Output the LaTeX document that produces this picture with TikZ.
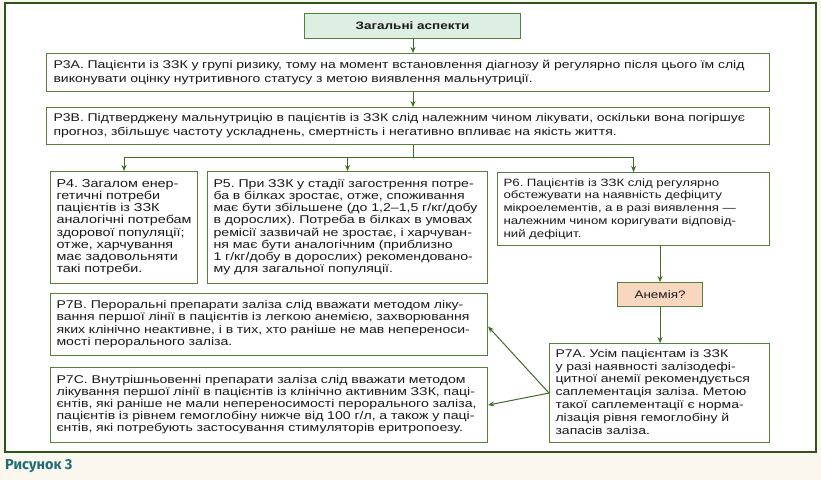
\documentclass[tikz,border=0pt]{standalone}
\usepackage{fontspec}
\setmainfont{Liberation Sans}
\newfontfamily\wf[FakeStretch=1.25]{Liberation Sans}
\newfontfamily\capfont{Fira Sans}
\usetikzlibrary{arrows.meta}
\frenchspacing
\newcommand\txtlines[1]{\begin{tabular}{@{}l@{}}#1\end{tabular}}
\definecolor{bgcream}{HTML}{FAF8EE}
\definecolor{framegreen}{HTML}{2F5618}
\definecolor{boxgreen}{HTML}{55803A}
\definecolor{arrgreen}{HTML}{3F6B25}
\definecolor{titlefill}{HTML}{DDEFE3}
\definecolor{anfill}{HTML}{F9D6C0}
\definecolor{captext}{HTML}{1F6C78}
\definecolor{txt}{HTML}{1A1A1A}
\begin{document}
\begin{tikzpicture}[x=1pt,y=-1pt,
  box/.style={draw=boxgreen, line width=1.1pt, fill=white, anchor=north west,
    align=left, inner xsep=6pt, inner ysep=0pt, text=txt},
  bigtext/.style={font=\wf\fontsize{11.2}{14}\selectfont\frenchspacing},
  smalltext/.style 2 args={font=\wf\fontsize{#1}{#2}\selectfont\frenchspacing},
  arr/.style={draw=arrgreen, line width=1pt, -{Stealth[length=6pt,width=5pt]}},
  ln/.style={draw=arrgreen, line width=1pt}]
\fill[bgcream] (0,0) rectangle (821,480);
\draw[framegreen, line width=2.6pt, fill=white] (5,3) rectangle (816,452);

\node[box, fill=titlefill, minimum width=216pt, minimum height=25pt, align=center,
  font=\wf\bfseries\fontsize{10.8}{12}\selectfont] (title) at (304,13) {Загальні аспекти};

\node[box, bigtext, inner xsep=7pt, text width=709pt, minimum height=38pt] (p3a) at (46,53)
 {\txtlines{Р3А. Пацієнти із ЗЗК у групі ризику, тому на момент встановлення діагнозу й регулярно після цього їм слід\\
 виконувати оцінку нутритивного статусу з метою виявлення мальнутриції.}};

\node[box, bigtext, inner xsep=7pt, text width=709pt, minimum height=37pt] (p3b) at (46,107)
 {\txtlines{Р3В. Підтверджену мальнутрицію в пацієнтів із ЗЗК слід належним чином лікувати, оскільки вона погіршує\\
 прогноз, збільшує частоту ускладнень, смертність і негативно впливає на якість життя.}};

\node[box, smalltext={11.5}{12.2}, text width=135pt, minimum height=112pt] (p4) at (50,171)
 {\txtlines{Р4. Загалом енер-\\гетичні потреби\\пацієнтів із ЗЗК\\аналогічні потребам\\здорової популяції;\\отже, харчування\\має задовольняти\\такі потреби.}};

\node[box, smalltext={11.3}{12.2}, text width=268pt, minimum height=112pt] (p5) at (207,171)
 {\txtlines{Р5. При ЗЗК у стадії загострення потре-\\ба в білках зростає, отже, споживання\\має бути збільшене (до 1,2–1,5 г/кг/добу\\в дорослих). Потреба в білках в умовах\\ремісії зазвичай не зростає, і харчуван-\\ня має бути аналогічним (приблизно\\1 г/кг/добу в дорослих) рекомендовано-\\му для загальної популяції.}};

\node[box, smalltext={10.6}{12.8}, text width=260pt, minimum height=73pt] (p6) at (497,172)
 {\txtlines{Р6. Пацієнтів із ЗЗК слід регулярно\\обстежувати на наявність дефіциту\\мікроелементів, а в разі виявлення —\\належним чином коригувати відповід-\\ний дефіцит.}};

\node[box, fill=anfill, minimum width=85pt, minimum height=24pt, align=center,
  font=\wf\fontsize{10.8}{12}\selectfont] (anemia) at (617,282) {Анемія?};

\node[box, smalltext={11.2}{12.8}, text width=208pt, minimum height=99pt] (p7a) at (549,343)
 {\txtlines{Р7А. Усім пацієнтам із ЗЗК\\у разі наявності залізодефі-\\цитної анемії рекомендується\\саплементація заліза. Метою\\такої саплементації є норма-\\лізація рівня гемоглобіну й\\запасів заліза.}};

\node[box, smalltext={11.25}{12.2}, text width=425pt, minimum height=62pt] (p7b) at (50,293)
 {\txtlines{Р7В. Пероральні препарати заліза слід вважати методом ліку-\\вання першої лінії в пацієнтів із легкою анемією, захворювання\\яких клінічно неактивне, і в тих, хто раніше не мав непереноси-\\мості перорального заліза.}};

\node[box, smalltext={11.27}{12.2}, text width=425pt, minimum height=75pt] (p7c) at (50,367)
 {\txtlines{Р7С. Внутрішньовенні препарати заліза слід вважати методом\\лікування першої лінії в пацієнтів із клінічно активним ЗЗК, паці-\\єнтів, які раніше не мали непереносимості перорального заліза,\\пацієнтів із рівнем гемоглобіну нижче від 100 г/л, а також у паці-\\єнтів, які потребують застосування стимуляторів еритропоезу.}};

\node[anchor=west, inner sep=0pt, text=captext, font=\capfont\bfseries\fontsize{14.5}{16}\selectfont] (cap) at (5,466) {Рисунок 3};

% connectors
\coordinate (split) at (413,157);
\coordinate (splitl) at (p4.north |- split);
\coordinate (splitr) at (p6.north |- split);
\draw[arr] (title.south -| split) -- (p3a.north -| split);
\draw[arr] (p3a.south -| split) -- (p3b.north -| split);
\draw[ln] (p3b.south -| split) -- (split);
\draw[ln] (splitl) -- (splitr);
\draw[arr] (splitl) -- (p4.north);
\draw[arr] (p5.north |- split) -- (p5.north);
\draw[arr] (splitr) -- (p6.north);
\draw[arr] (anemia.north |- p6.south) -- (anemia.north);
\draw[arr] (anemia.south) -- (p7a.north -| anemia.south);
\draw[arr] (p7a.west) -- ([yshift=-2pt]p7b.east);
\draw[arr] (p7a.west) -- (p7c.east);
\end{tikzpicture}
\end{document}
